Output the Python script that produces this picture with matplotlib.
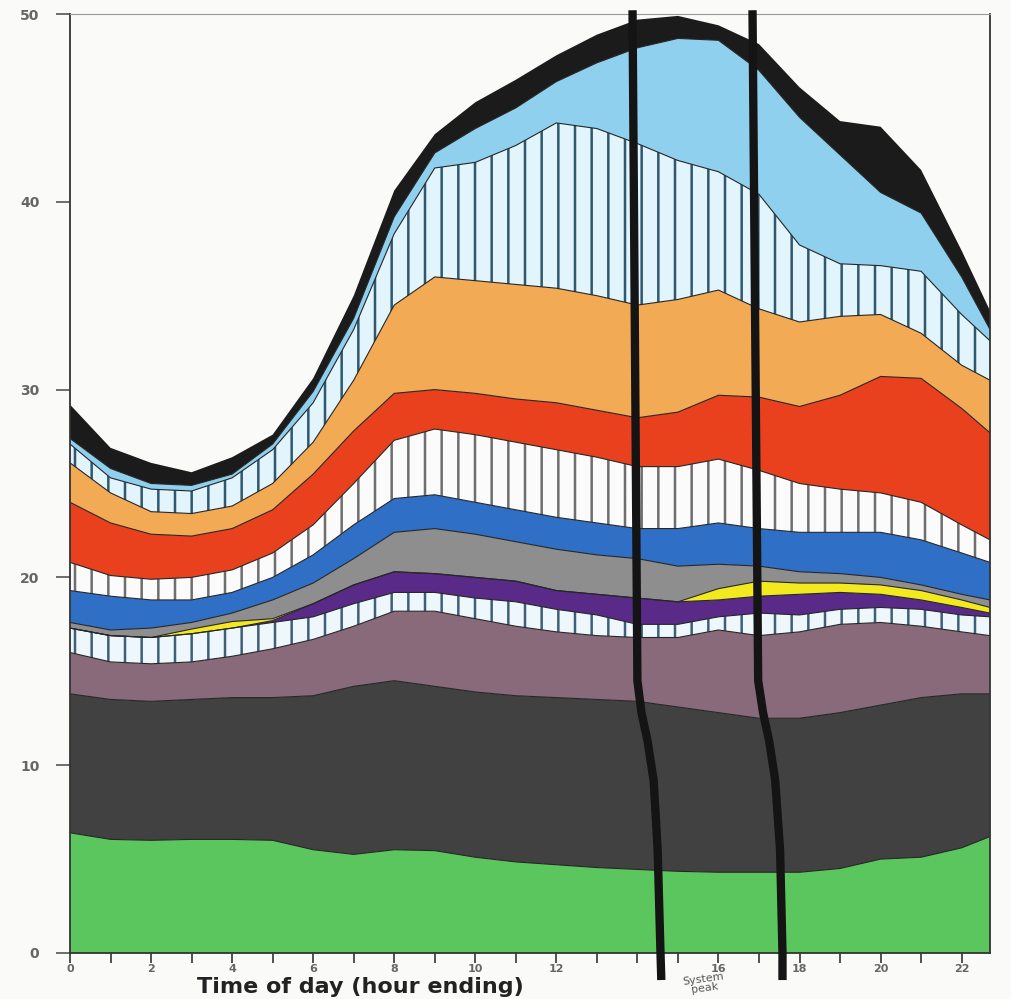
import numpy as np
import matplotlib
matplotlib.use("Agg")
import matplotlib.pyplot as plt

plt.rcParams["hatch.linewidth"] = 1.8

# hour of day (hour ending) and the top of each stacked layer (GW)
hours = [0, 1, 2, 3, 4, 5, 6, 7, 8, 9, 10, 11, 12, 13, 14, 15, 16, 17, 18, 19, 20, 21, 22, 22.7]

green_top = [6.4, 6.05, 6.0, 6.05, 6.05, 6.0, 5.5, 5.25, 5.5, 5.45, 5.1, 4.85, 4.7, 4.55, 4.45, 4.35, 4.3, 4.3, 4.3, 4.5, 5.0, 5.1, 5.6, 6.2]
dkgray_top = [13.8, 13.5, 13.4, 13.5, 13.6, 13.6, 13.7, 14.2, 14.5, 14.2, 13.9, 13.7, 13.6, 13.5, 13.4, 13.1, 12.8, 12.5, 12.5, 12.8, 13.2, 13.6, 13.8, 13.8]
mauve_top = [16.0, 15.5, 15.4, 15.5, 15.8, 16.2, 16.7, 17.4, 18.2, 18.2, 17.8, 17.4, 17.1, 16.9, 16.8, 16.8, 17.2, 16.9, 17.1, 17.5, 17.6, 17.4, 17.1, 16.9]
stripe1_top = [17.3, 16.9, 16.8, 17.0, 17.3, 17.6, 17.9, 18.6, 19.2, 19.2, 18.9, 18.7, 18.3, 18.0, 17.5, 17.5, 17.9, 18.1, 18.0, 18.3, 18.4, 18.3, 18.0, 17.9]
purple_top = [17.3, 16.9, 16.8, 17.0, 17.3, 17.7, 18.6, 19.6, 20.3, 20.2, 20.0, 19.8, 19.3, 19.1, 18.9, 18.7, 18.8, 19.0, 19.1, 19.2, 19.1, 18.8, 18.4, 18.1]
yellow_top = [17.3, 16.9, 16.8, 17.25, 17.65, 17.8, 18.6, 19.6, 20.3, 20.2, 20.0, 19.8, 19.3, 19.1, 18.9, 18.7, 19.4, 19.8, 19.7, 19.7, 19.6, 19.3, 18.8, 18.4]
gray_top = [17.6, 17.2, 17.3, 17.6, 18.1, 18.8, 19.7, 21.0, 22.4, 22.6, 22.3, 21.9, 21.5, 21.2, 21.0, 20.6, 20.7, 20.6, 20.3, 20.2, 20.0, 19.6, 19.1, 18.8]
blue_top = [19.3, 19.0, 18.8, 18.8, 19.2, 20.0, 21.2, 22.8, 24.2, 24.4, 24.0, 23.6, 23.2, 22.9, 22.6, 22.6, 22.9, 22.6, 22.4, 22.4, 22.4, 22.0, 21.3, 20.8]
stripe2_top = [20.8, 20.1, 19.9, 20.0, 20.4, 21.3, 22.8, 25.0, 27.3, 27.9, 27.6, 27.2, 26.8, 26.4, 25.9, 25.9, 26.3, 25.7, 25.0, 24.7, 24.5, 24.0, 22.8, 22.0]
red_top = [24.0, 22.9, 22.3, 22.2, 22.6, 23.6, 25.5, 27.8, 29.8, 30.0, 29.8, 29.5, 29.3, 28.9, 28.5, 28.8, 29.7, 29.6, 29.1, 29.7, 30.7, 30.6, 29.0, 27.7]
orange_top = [26.1, 24.5, 23.5, 23.4, 23.8, 25.0, 27.2, 30.5, 34.5, 36.0, 35.8, 35.6, 35.4, 35.0, 34.5, 34.8, 35.3, 34.3, 33.6, 33.9, 34.0, 33.0, 31.3, 30.5]
stripe3_top = [27.1, 25.3, 24.7, 24.6, 25.3, 26.8, 29.3, 33.2, 38.3, 41.8, 42.1, 43.0, 44.2, 43.9, 43.1, 42.2, 41.6, 40.4, 37.7, 36.7, 36.6, 36.3, 34.0, 32.6]
lblue_top = [27.4, 25.8, 25.0, 24.9, 25.5, 27.1, 29.9, 33.8, 39.2, 42.6, 43.9, 45.0, 46.4, 47.4, 48.2, 48.7, 48.6, 47.0, 44.5, 42.5, 40.5, 39.4, 36.0, 33.2]
black_top = [29.2, 26.9, 26.1, 25.6, 26.4, 27.6, 30.6, 35.0, 40.6, 43.6, 45.3, 46.5, 47.8, 48.9, 49.7, 49.9, 49.4, 48.4, 46.1, 44.3, 44.0, 41.7, 37.4, 34.2]

# the two hand drawn "system peak" markers (hour, GW), bent like on the scan
peak1_x = [13.88, 14.0, 14.1, 14.25, 14.4, 14.5, 14.57, 14.59]
peak2_x = [16.84, 16.98, 17.1, 17.25, 17.4, 17.52, 17.58, 17.58]
peak_y = [50.2, 14.5, 12.8, 11.3, 9.2, 5.5, 0.0, -1.44]

layers = [
    (None, green_top, "#5cc65e", None, None),
    (green_top, dkgray_top, "#414141", None, None),
    (dkgray_top, mauve_top, "#896a7a", None, None),
    (mauve_top, stripe1_top, "#eef8fc", "|", "#3f5f78"),
    (stripe1_top, purple_top, "#5a2a88", None, None),
    (purple_top, yellow_top, "#f2ea1e", None, None),
    (yellow_top, gray_top, "#8e8e8e", None, None),
    (gray_top, blue_top, "#2f6fc6", None, None),
    (blue_top, stripe2_top, "#fbfbfb", "|", "#6e6e6e"),
    (stripe2_top, red_top, "#e9411e", None, None),
    (red_top, orange_top, "#f2aa55", None, None),
    (orange_top, stripe3_top, "#e2f4fc", "|", "#2f5870"),
    (stripe3_top, lblue_top, "#8fd0ee", None, None),
    (lblue_top, black_top, "#1b1b1b", None, None),
]

fig = plt.figure(figsize=(10.12, 9.99), dpi=100, facecolor="#fafaf8")
ax = fig.add_axes([70 / 1012, 46 / 999, 920 / 1012, 939 / 999])
ax.set_facecolor("#fafaf8")

for lower, upper, color, hatch, hcolor in layers:
    base = np.zeros(len(hours)) if lower is None else lower
    if hatch:
        ax.fill_between(hours, base, upper, facecolor=color, edgecolor=hcolor,
                        hatch=hatch, linewidth=0)
    else:
        ax.fill_between(hours, base, upper, facecolor=color, linewidth=0)

for lower, upper, color, hatch, hcolor in layers[:-1]:
    ax.plot(hours, upper, color="#262626", lw=0.8)

ax.plot(peak1_x, peak_y, color="#141414", lw=6, solid_capstyle="butt", clip_on=False, zorder=5)
ax.plot(peak2_x, peak_y, color="#141414", lw=6, solid_capstyle="butt", clip_on=False, zorder=5)

ax.set_xlim(0, 22.7)
ax.set_ylim(0, 50)

xt = list(range(0, 23, 2))
ax.set_xticks(xt)
ax.set_xticklabels(["" if t == 14 else str(t) for t in xt])
ax.set_xticks(list(range(1, 23, 2)), minor=True)
ax.set_yticks([0, 10, 20, 30, 40, 50])

ax.tick_params(axis="x", which="both", length=7, width=1.2, color="#333",
               labelsize=8, labelcolor="#666", pad=1)
ax.tick_params(axis="y", length=10, width=1.2, color="#555",
               labelsize=10, labelcolor="#666", pad=12)
for lab in ax.get_yticklabels() + ax.get_xticklabels():
    lab.set_fontweight("bold")

for side in ["left", "right", "bottom"]:
    ax.spines[side].set_color("#333")
    ax.spines[side].set_linewidth(1.3)
ax.spines["top"].set_color("#999")
ax.spines["top"].set_linewidth(0.8)

fig.text(360 / 1012, 1 - 987 / 999, "Time of day (hour ending)", ha="center", va="center",
         fontsize=16, fontweight="bold", color="#222")
fig.text(704 / 1012, 1 - 984 / 999, "System\npeak", ha="center", va="center",
         fontsize=8, color="#555", rotation=8, linespacing=0.85)

fig.savefig("out.png", dpi=100, facecolor=fig.get_facecolor())
